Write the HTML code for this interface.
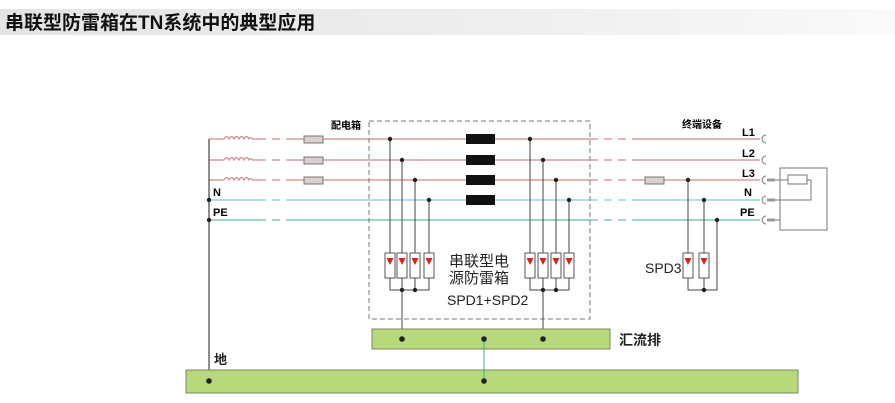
<!DOCTYPE html>
<html><head><meta charset="utf-8"><style>
body{margin:0;width:895px;height:403px;background:#fff;overflow:hidden}
svg{display:block}
text{font-family:"Liberation Sans","Noto Sans CJK SC",sans-serif}
</style></head><body>
<svg width="895" height="403" viewBox="0 0 895 403">
<defs><linearGradient id="tg" x1="0" x2="1"><stop offset="0" stop-color="#e4e4e4"/><stop offset="0.6" stop-color="#efefef"/><stop offset="1" stop-color="#fafafa"/></linearGradient></defs>
<rect x="0" y="9" width="895" height="26" fill="url(#tg)"/>
<text x="5" y="29" font-size="19" font-weight="bold" fill="#111" font-family="'Noto Sans CJK SC',sans-serif">串联型防雷箱在TN系统中的典型应用</text>

<!-- phase lines -->
<g fill="none" stroke-width="1.2">
<g stroke="#d08a8a">
<path d="M209 139H224 M252 139H258 M292 139H590 M633 139H760"/>
<path d="M258 139H292 M590 139H633" stroke-dasharray="8 6"/>
<path d="M209 160H224 M252 160H258 M292 160H590 M633 160H760"/>
<path d="M258 160H292 M590 160H633" stroke-dasharray="8 6"/>
<path d="M209 180H224 M252 180H258 M292 180H590 M633 180H760"/>
<path d="M258 180H292 M590 180H633" stroke-dasharray="8 6"/>
<path d="M224 139q2.5 -5 5 0q2.5 -5 5 0q2.5 -5 5 0q2.5 -5 5 0q2.5 -5 5 0q2 -3 3 0"/>
<path d="M224 160q2.5 -5 5 0q2.5 -5 5 0q2.5 -5 5 0q2.5 -5 5 0q2.5 -5 5 0q2 -3 3 0"/>
<path d="M224 180q2.5 -5 5 0q2.5 -5 5 0q2.5 -5 5 0q2.5 -5 5 0q2.5 -5 5 0q2 -3 3 0"/>
</g>
<path d="M209 200H258 M292 200H590 M633 200H760" stroke="#8ccbd8"/>
<path d="M258 200H292 M590 200H633" stroke="#8ccbd8" stroke-dasharray="8 6"/>
<path d="M209 220H258 M292 220H590 M633 220H760" stroke="#6cbb98"/>
<path d="M258 220H292 M590 220H633" stroke="#6cbb98" stroke-dasharray="8 6"/>
</g>
<!-- left vertical -->
<path d="M209 139V381" stroke="#444" stroke-width="1.2"/>
<circle cx="209" cy="200" r="2.2" fill="#222"/><circle cx="209" cy="220" r="2.2" fill="#222"/>
<text x="213" y="196" font-size="11" font-weight="bold">N</text>
<text x="213" y="216" font-size="11" font-weight="bold">PE</text>
<!-- fuses -->
<g fill="#d9cfcf" stroke="#777" stroke-width="1">
<rect x="304" y="136" width="19" height="7"/><rect x="304" y="157" width="19" height="7"/><rect x="304" y="177" width="19" height="7"/>
<rect x="645" y="177" width="19" height="7"/>
</g>
<text x="331" y="129" font-size="10" font-weight="bold">配电箱</text>
<!-- dashed box -->
<rect x="369" y="121" width="221" height="198" fill="none" stroke="#777" stroke-dasharray="5 3"/>
<!-- black blocks -->
<g fill="#111"><rect x="466" y="134" width="29" height="10"/><rect x="466" y="155" width="29" height="10"/><rect x="466" y="175" width="29" height="10"/><rect x="466" y="195" width="29" height="10"/></g>
<!-- SPD taps -->
<g stroke="#444" stroke-width="1" fill="none">
<path d="M390 139V253 M402 160V253 M415 180V253 M429 200V253"/>
<path d="M530 139V253 M543 160V253 M556 180V253 M569 200V253"/>
<path d="M390 278V290H429V278 M402 278V290 M415 278V290 M402 290V339"/>
<path d="M530 278V290H569V278 M543 278V290 M556 278V290 M543 290V339"/>
<path d="M688 180V253 M704 200V253 M717 220V290H688V278 M704 278V290"/>
</g>
<g fill="#fff" stroke="#555" stroke-width="1">
<rect x="385" y="253" width="10" height="25"/><rect x="397" y="253" width="10" height="25"/><rect x="410" y="253" width="10" height="25"/><rect x="424" y="253" width="10" height="25"/>
<rect x="525" y="253" width="10" height="25"/><rect x="538" y="253" width="10" height="25"/><rect x="551" y="253" width="10" height="25"/><rect x="564" y="253" width="10" height="25"/>
<rect x="683" y="253" width="10" height="25"/><rect x="699" y="253" width="10" height="25"/>
</g>
<g fill="#e02020">
<path d="M386.5 258h7l-3.5 7z M398.5 258h7l-3.5 7z M411.5 258h7l-3.5 7z M425.5 258h7l-3.5 7z"/>
<path d="M526.5 258h7l-3.5 7z M539.5 258h7l-3.5 7z M552.5 258h7l-3.5 7z M565.5 258h7l-3.5 7z"/>
<path d="M684.5 258h7l-3.5 7z M700.5 258h7l-3.5 7z"/>
</g>
<g fill="#222">
<circle cx="390" cy="139" r="2.2"/><circle cx="402" cy="160" r="2.2"/><circle cx="415" cy="180" r="2.2"/><circle cx="429" cy="200" r="2.2"/>
<circle cx="530" cy="139" r="2.2"/><circle cx="543" cy="160" r="2.2"/><circle cx="556" cy="180" r="2.2"/><circle cx="569" cy="200" r="2.2"/>
<circle cx="402" cy="290" r="2.2"/><circle cx="415" cy="290" r="2.2"/><circle cx="543" cy="290" r="2.2"/><circle cx="556" cy="290" r="2.2"/>
<circle cx="688" cy="180" r="2.2"/><circle cx="704" cy="200" r="2.2"/><circle cx="717" cy="220" r="2.2"/><circle cx="704" cy="290" r="2.2"/>
</g>
<text x="449" y="266" font-size="15" fill="#222">串联型电</text>
<text x="449" y="283" font-size="15" fill="#222">源防雷箱</text>
<text x="447" y="305" font-size="14" fill="#222">SPD1+SPD2</text>
<text x="645" y="273" font-size="14" fill="#222">SPD3</text>
<!-- right side -->
<text x="682" y="128" font-size="10" font-weight="bold">终端设备</text>
<g font-size="11" font-weight="bold"><text x="742" y="136">L1</text><text x="742" y="157">L2</text><text x="742" y="177">L3</text><text x="744" y="196">N</text><text x="740" y="216">PE</text></g>
<g fill="none" stroke="#777" stroke-width="1">
<path d="M766 135a4 4 0 0 0 0 8 M766 156a4 4 0 0 0 0 8 M766 176a4 4 0 0 0 0 8 M766 196a4 4 0 0 0 0 8 M766 216a4 4 0 0 0 0 8"/>
<rect x="780" y="168" width="47" height="62"/>
<rect x="788" y="175" width="19" height="9"/>
<path d="M775 180H788 M807 180H811V200H775 M775 220H780"/>
</g>
<g fill="#999"><rect x="767" y="178.5" width="8" height="3"/><rect x="767" y="198.5" width="8" height="3"/><rect x="767" y="218.5" width="8" height="3"/></g>
<!-- busbars -->
<rect x="372" y="329" width="238" height="20" fill="#b8d87c" stroke="#7a8a60"/>
<rect x="186" y="370" width="612" height="23" fill="#b8d87c" stroke="#7a8a60"/>
<path d="M484 339V381" stroke="#4aa88a" stroke-width="1"/>
<g fill="#222"><circle cx="402" cy="339" r="2.8"/><circle cx="484" cy="339" r="2.8"/><circle cx="543" cy="339" r="2.8"/><circle cx="209" cy="381" r="2.8"/><circle cx="484" cy="381" r="2.8"/></g>
<text x="619" y="345" font-size="14" font-weight="bold" fill="#222">汇流排</text>
<text x="214" y="364" font-size="13" font-weight="bold" fill="#222">地</text>
</svg>
</body></html>
